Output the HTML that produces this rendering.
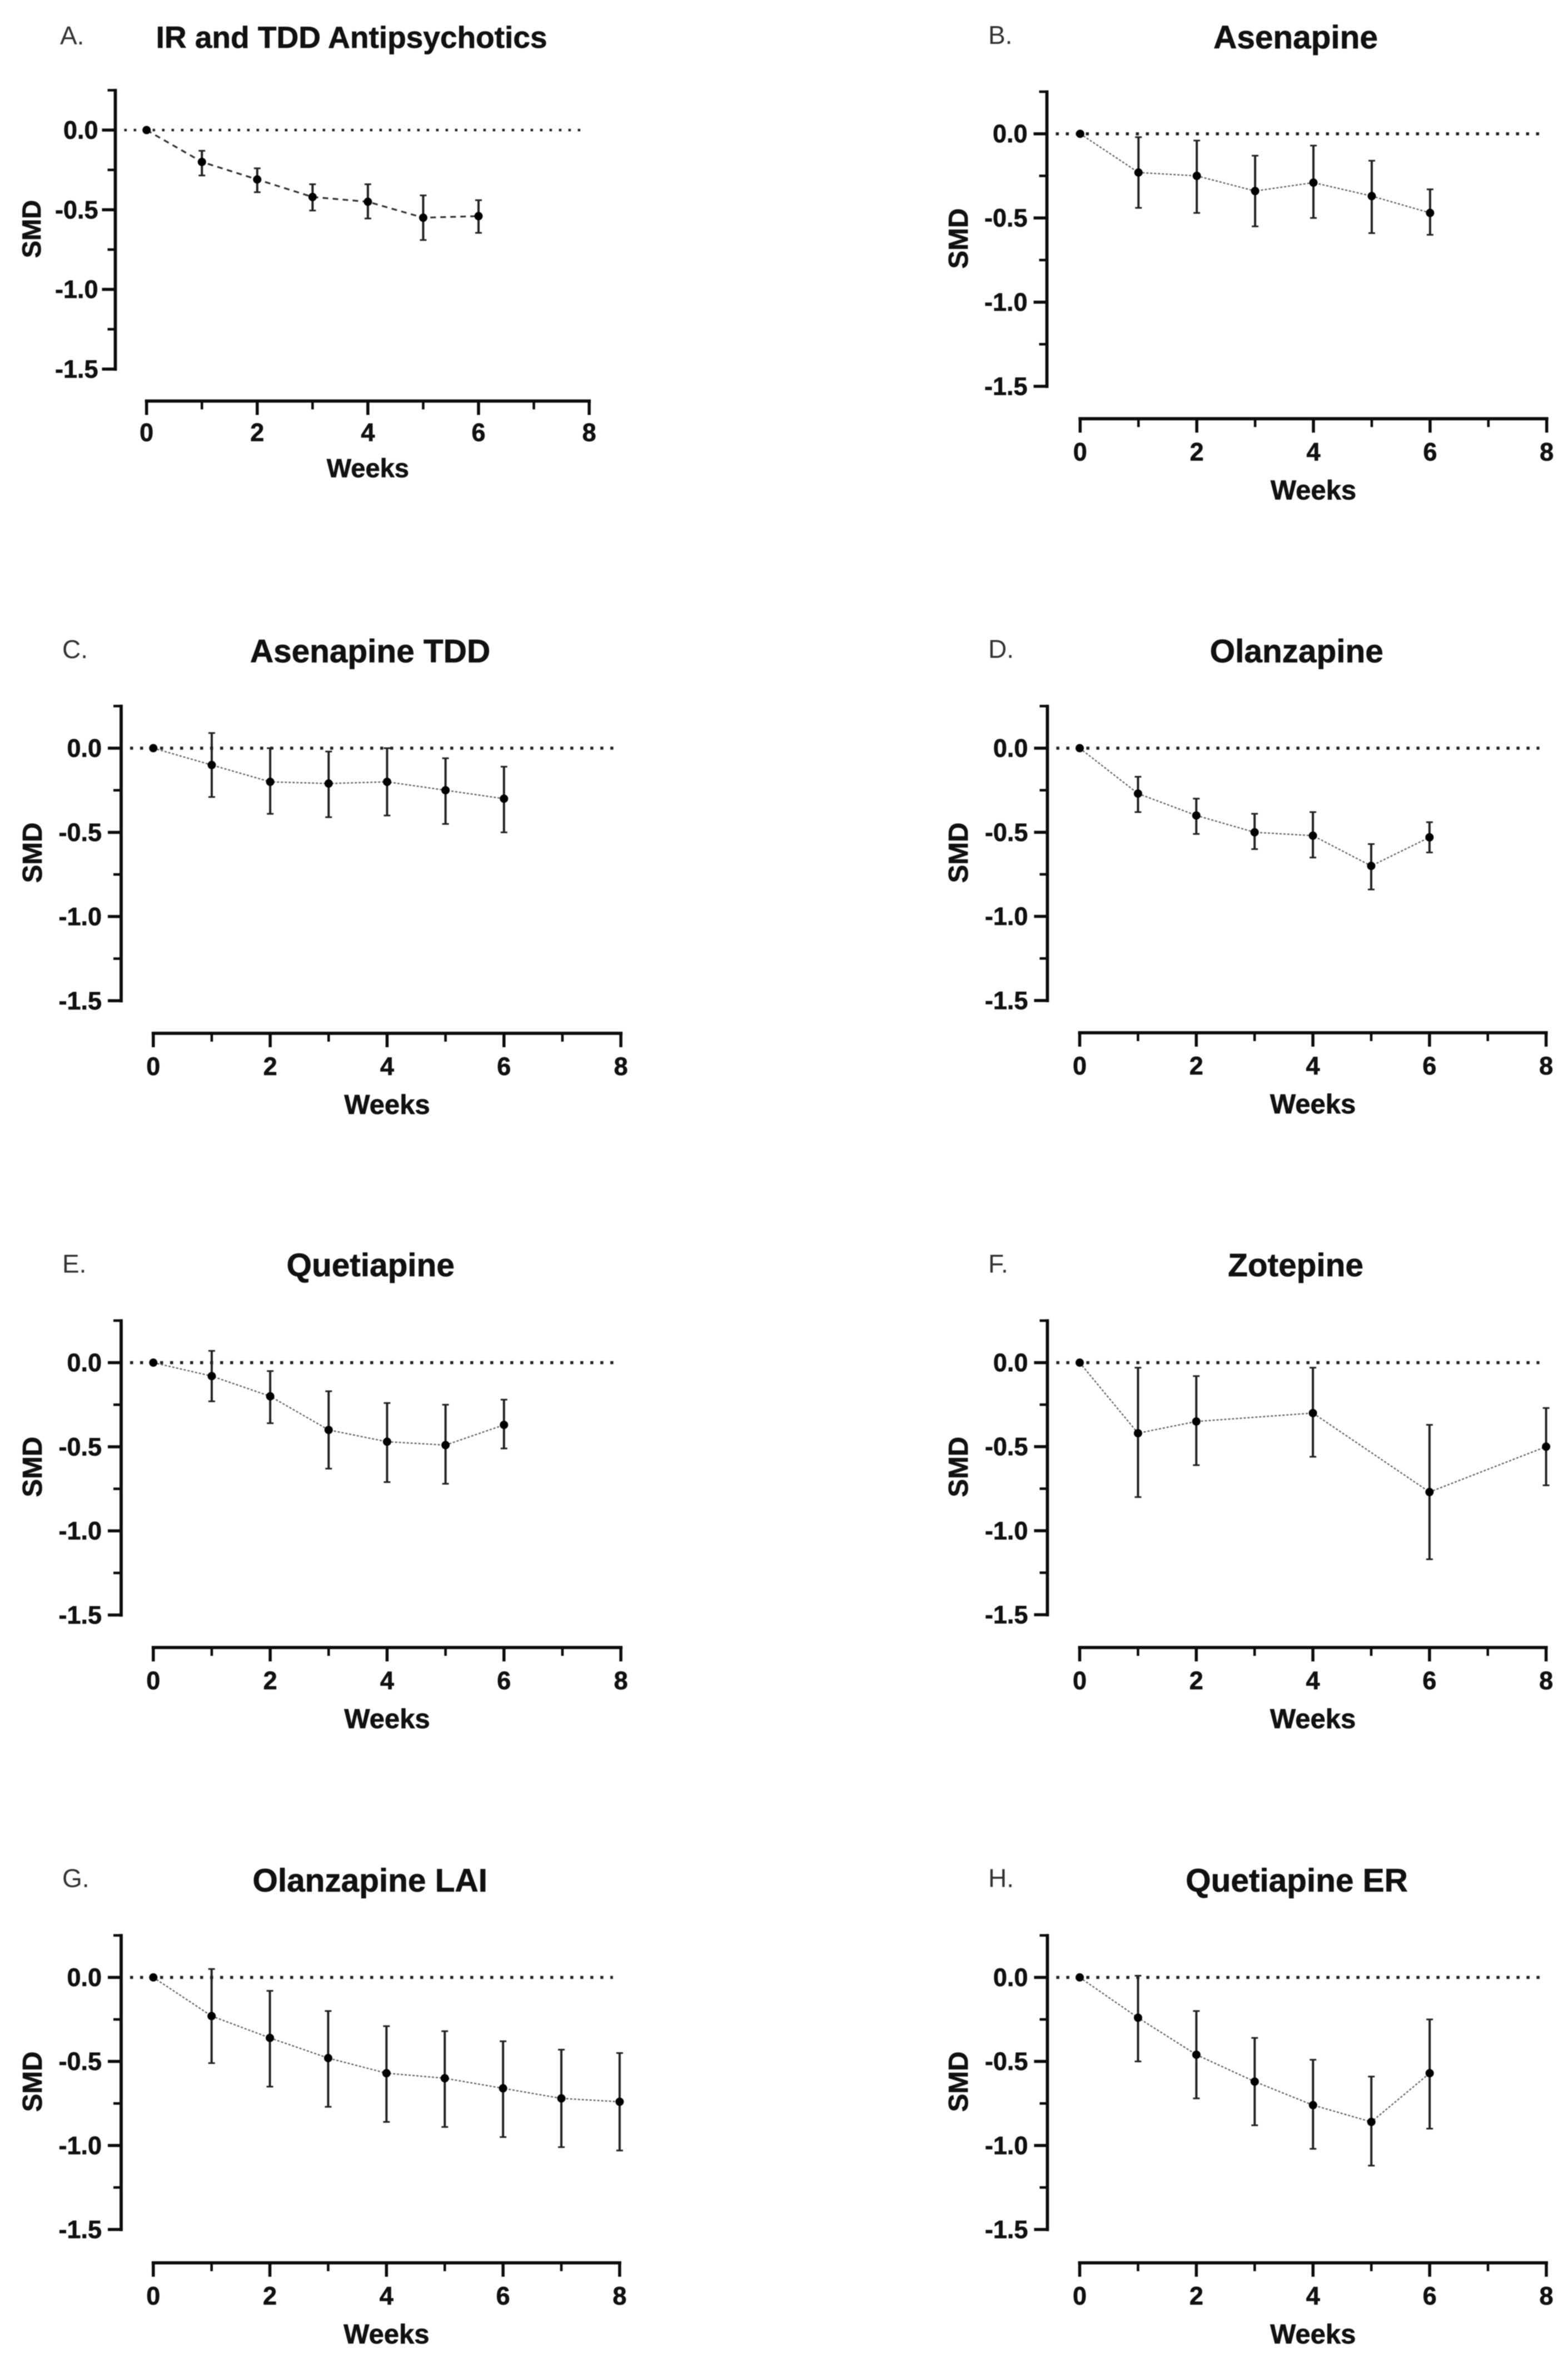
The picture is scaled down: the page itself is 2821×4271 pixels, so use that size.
<!DOCTYPE html>
<html lang="en">
<head>
<meta charset="utf-8">
<title>SMD over weeks by antipsychotic</title>
<style>
html,body{margin:0;padding:0;background:#fff;width:2821px;height:4271px;overflow:hidden}
svg{display:block;filter:blur(0.8px)}
text{font-family:"Liberation Sans",sans-serif}
text[font-weight="bold"]{stroke:#111;stroke-width:0.7px}
</style>
</head>
<body>
<svg id="figure" xmlns="http://www.w3.org/2000/svg" width="2821" height="4271" viewBox="0 0 2821 4271">
<rect x="0" y="0" width="2821" height="4271" fill="#ffffff"/>
</svg>
<script>
const yMajorTicks = [0, -0.5, -1, -1.5];
const yMinorTicks = [0.25, -0.25, -0.75, -1.25];
const yTickLabels = ["0.0", "-0.5", "-1.0", "-1.5"];
const xMajorTicks = [0, 2, 4, 6, 8];
const xMinorTicks = [1, 3, 5, 7];
const xTickLabels = ["0", "2", "4", "6", "8"];

const weeksA = [0, 1, 2, 3, 4, 5, 6];
const meanA = [0, -0.20, -0.31, -0.42, -0.45, -0.55, -0.54];
const upperA = [0, -0.13, -0.24, -0.34, -0.34, -0.41, -0.44];
const lowerA = [0, -0.285, -0.39, -0.505, -0.555, -0.69, -0.645];

const weeksB = [0, 1, 2, 3, 4, 5, 6];
const meanB = [0, -0.23, -0.25, -0.34, -0.29, -0.37, -0.47];
const upperB = [0, -0.02, -0.04, -0.13, -0.07, -0.16, -0.33];
const lowerB = [0, -0.44, -0.47, -0.55, -0.50, -0.59, -0.60];

const weeksC = [0, 1, 2, 3, 4, 5, 6];
const meanC = [0, -0.10, -0.20, -0.21, -0.20, -0.25, -0.30];
const upperC = [0, 0.09, 0, -0.02, 0, -0.06, -0.11];
const lowerC = [0, -0.29, -0.39, -0.41, -0.40, -0.45, -0.50];

const weeksD = [0, 1, 2, 3, 4, 5, 6];
const meanD = [0, -0.27, -0.40, -0.50, -0.52, -0.70, -0.53];
const upperD = [0, -0.17, -0.30, -0.39, -0.38, -0.57, -0.44];
const lowerD = [0, -0.38, -0.51, -0.60, -0.65, -0.84, -0.62];

const weeksE = [0, 1, 2, 3, 4, 5, 6];
const meanE = [0, -0.08, -0.20, -0.40, -0.47, -0.49, -0.37];
const upperE = [0, 0.07, -0.05, -0.17, -0.24, -0.25, -0.22];
const lowerE = [0, -0.23, -0.36, -0.63, -0.71, -0.72, -0.51];

const weeksF = [0, 1, 2, 4, 6, 8];
const meanF = [0, -0.42, -0.35, -0.30, -0.77, -0.50];
const upperF = [0, -0.03, -0.08, -0.03, -0.37, -0.27];
const lowerF = [0, -0.80, -0.61, -0.56, -1.17, -0.73];

const weeksG = [0, 1, 2, 3, 4, 5, 6, 7, 8];
const meanG = [0, -0.23, -0.36, -0.48, -0.57, -0.60, -0.66, -0.72, -0.74];
const upperG = [0, 0.05, -0.08, -0.20, -0.29, -0.32, -0.38, -0.43, -0.45];
const lowerG = [0, -0.51, -0.65, -0.77, -0.86, -0.89, -0.95, -1.01, -1.03];

const weeksH = [0, 1, 2, 3, 4, 5, 6];
const meanH = [0, -0.24, -0.46, -0.62, -0.76, -0.86, -0.57];
const upperH = [0, 0.01, -0.20, -0.36, -0.49, -0.59, -0.25];
const lowerH = [0, -0.50, -0.72, -0.88, -1.02, -1.12, -0.90];

const NS = "http://www.w3.org/2000/svg";
const root = document.getElementById("figure");

function make(tag, attrs, parent) {
  const el = document.createElementNS(NS, tag);
  for (const k in attrs) el.setAttribute(k, attrs[k]);
  parent.appendChild(el);
  return el;
}

function drawPanel(p, weeks, mean, upper, lower) {
  const group = make("g", {}, root);
  
  

  const xScale = w => p.x0 + (p.x8 - p.x0) * w / 8;
  const yScale = v => p.y0 + (p.y15 - p.y0) * v / -1.5;

  // panel letter and title
  const letter = make("text", {x: p.letterX, y: p.letterY, "font-size": 46, fill: "#333"}, group);
  letter.textContent = p.letter;
  
  

  const title = make("text", {x: p.titleX, y: p.titleY, "font-size": p.titleSize, "font-weight": "bold", "text-anchor": "middle", fill: "#111"}, group);
  title.textContent = p.title;
  
  

  // y axis
  const yAxis = make("line", {x1: p.axisX, x2: p.axisX, y1: yScale(0.25) - 2.5, y2: yScale(-1.5) + 3, stroke: "#0c0c0c", "stroke-width": 5.8}, group);
  
  

  yMajorTicks.forEach((v, i) => {
    const tick = make("line", {x1: p.axisX - 24, x2: p.axisX, y1: yScale(v), y2: yScale(v), stroke: "#0c0c0c", "stroke-width": 5.5}, group);
    
    
    const label = make("text", {x: p.axisX - p.yLabelGap, y: yScale(v) + 15.5, "font-size": 45, "font-weight": "bold", "text-anchor": "end", fill: "#111"}, group);
    label.textContent = yTickLabels[i];
    
    
  });
  yMinorTicks.forEach(v => {
    const tick = make("line", {x1: p.axisX - 14, x2: p.axisX, y1: yScale(v), y2: yScale(v), stroke: "#0c0c0c", "stroke-width": 4.6}, group);
    
    
  });

  const yTitle = make("text", {x: p.smdX, y: p.smdY, "font-size": p.axisFont, "font-weight": "bold", "text-anchor": "middle", fill: "#111", transform: "rotate(-90 " + p.smdX + " " + p.smdY + ")"}, group);
  yTitle.textContent = "SMD";
  
  

  // x axis
  const xAxis = make("line", {x1: xScale(0) - 3, x2: xScale(8) + 3, y1: p.xAxisY, y2: p.xAxisY, stroke: "#0c0c0c", "stroke-width": 5.8}, group);
  
  

  xMajorTicks.forEach((w, i) => {
    const tick = make("line", {x1: xScale(w), x2: xScale(w), y1: p.xAxisY, y2: p.xAxisY + 25, stroke: "#0c0c0c", "stroke-width": 5.5}, group);
    
    
    const label = make("text", {x: xScale(w), y: p.xAxisY + p.xLabelGap, "font-size": 45, "font-weight": "bold", "text-anchor": "middle", fill: "#111"}, group);
    label.textContent = xTickLabels[i];
    
    
  });
  xMinorTicks.forEach(w => {
    const tick = make("line", {x1: xScale(w), x2: xScale(w), y1: p.xAxisY, y2: p.xAxisY + 15, stroke: "#0c0c0c", "stroke-width": 4.6}, group);
    
    
  });

  const xTitle = make("text", {x: xScale(4), y: p.xAxisY + p.xTitleGap, "font-size": p.axisFont, "font-weight": "bold", "text-anchor": "middle", fill: "#111"}, group);
  xTitle.textContent = "Weeks";
  
  

  // zero reference line
  const zero = make("line", {x1: p.axisX + 16, x2: xScale(8) - 12, y1: yScale(0), y2: yScale(0), stroke: "#222", "stroke-width": p.zeroWidth, "stroke-dasharray": p.zeroWidth + " " + (p.zeroStep - p.zeroWidth)}, group);
  
  

  // series line
  const pts = weeks.map((w, i) => xScale(w) + "," + yScale(mean[i])).join(" ");
  const line = make("polyline", {points: pts, fill: "none", stroke: p.lineColor, "stroke-width": p.lineWidth, "stroke-dasharray": p.lineDash}, group);
  
  

  // error bars and markers
  weeks.forEach((w, i) => {
    const cx = xScale(w);
    if (w !== 0) {
      const bar = make("line", {x1: cx, x2: cx, y1: yScale(upper[i]), y2: yScale(lower[i]), stroke: "#222", "stroke-width": 4}, group);
      
      
      const capTop = make("line", {x1: cx - 6, x2: cx + 6, y1: yScale(upper[i]), y2: yScale(upper[i]), stroke: "#222", "stroke-width": 3}, group);
      
      
      const capBot = make("line", {x1: cx - 6, x2: cx + 6, y1: yScale(lower[i]), y2: yScale(lower[i]), stroke: "#222", "stroke-width": 3}, group);
      
      
    }
    const dot = make("circle", {cx: cx, cy: yScale(mean[i]), r: 7.5, fill: "#000"}, group);
    
    
  });
}

const base = {titleSize: 58.5, axisFont: 49, yLabelGap: 35, xLabelGap: 75, xTitleGap: 145, zeroWidth: 5.5, zeroStep: 18, lineColor: "#666", lineWidth: 2.4, lineDash: "4 3"};

drawPanel(Object.assign({}, base, {key: "a", letter: "A.", title: "IR and TDD Antipsychotics", titleSize: 55, axisFont: 47, yLabelGap: 31, xLabelGap: 72, xTitleGap: 137, zeroWidth: 4.6, zeroStep: 17, lineColor: "#333", lineWidth: 3.2, lineDash: "10 8",
  axisX: 207.5, y0: 234, y15: 664, xAxisY: 721.5, x0: 263.7, x8: 1060, titleX: 632.5, titleY: 86, letterX: 108, letterY: 80, smdX: 73, smdY: 412}), weeksA, meanA, upperA, lowerA);

drawPanel(Object.assign({}, base, {key: "b", letter: "B.", title: "Asenapine",
  axisX: 1883.5, y0: 240.7, y15: 695, xAxisY: 753.3, x0: 1943.3, x8: 2782.7, titleX: 2331, titleY: 87, letterX: 1778, letterY: 79, smdX: 1741, smdY: 429}), weeksB, meanB, upperB, lowerB);

drawPanel(Object.assign({}, base, {key: "c", letter: "C.", title: "Asenapine TDD",
  axisX: 218, y0: 1346, y15: 1800.4, xAxisY: 1859, x0: 275.8, x8: 1117, titleX: 666, titleY: 1191.5, letterX: 112, letterY: 1184, smdX: 75, smdY: 1534}), weeksC, meanC, upperC, lowerC);

drawPanel(Object.assign({}, base, {key: "d", letter: "D.", title: "Olanzapine",
  axisX: 1884.4, y0: 1346, y15: 1800, xAxisY: 1858, x0: 1942.5, x8: 2781.6, titleX: 2332.7, titleY: 1191.5, letterX: 1778, letterY: 1183.6, smdX: 1741, smdY: 1534}), weeksD, meanD, upperD, lowerD);

drawPanel(Object.assign({}, base, {key: "e", letter: "E.", title: "Quetiapine",
  axisX: 218, y0: 2451.5, y15: 2905.5, xAxisY: 2964, x0: 275.8, x8: 1117, titleX: 666.7, titleY: 2295.8, letterX: 112, letterY: 2289.7, smdX: 75, smdY: 2639}), weeksE, meanE, upperE, lowerE);

drawPanel(Object.assign({}, base, {key: "f", letter: "F.", title: "Zotepine",
  axisX: 1884.4, y0: 2451.5, y15: 2905, xAxisY: 2964, x0: 1942.5, x8: 2781.6, titleX: 2331, titleY: 2295.8, letterX: 1778, letterY: 2289.7, smdX: 1741, smdY: 2639}), weeksF, meanF, upperF, lowerF);

drawPanel(Object.assign({}, base, {key: "g", letter: "G.", title: "Olanzapine LAI",
  axisX: 218, y0: 3557.5, y15: 4011, xAxisY: 4071, x0: 275.8, x8: 1114.8, titleX: 665.6, titleY: 3403, letterX: 112, letterY: 3395, smdX: 75, smdY: 3745}), weeksG, meanG, upperG, lowerG);

drawPanel(Object.assign({}, base, {key: "h", letter: "H.", title: "Quetiapine ER",
  axisX: 1884.4, y0: 3557.5, y15: 4011, xAxisY: 4071, x0: 1942.5, x8: 2782, titleX: 2333, titleY: 3403, letterX: 1778, letterY: 3395, smdX: 1741, smdY: 3745}), weeksH, meanH, upperH, lowerH);
</script>
</body>
</html>
